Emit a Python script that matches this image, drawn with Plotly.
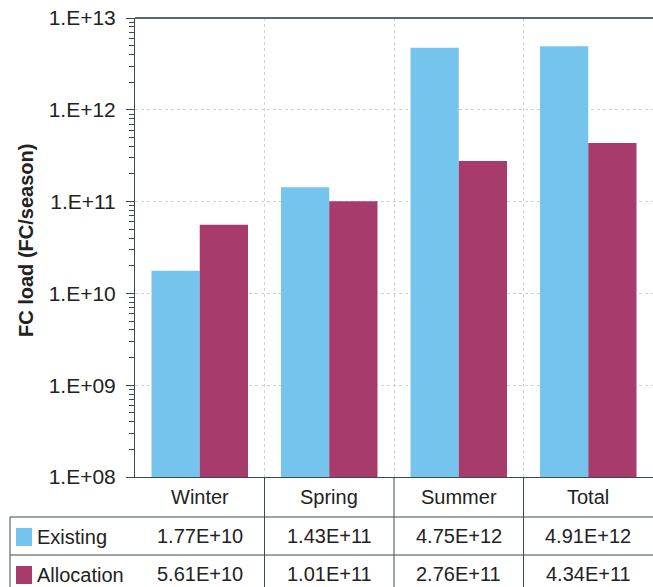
import plotly.graph_objects as go

categories = ["Winter", "Spring", "Summer", "Total"]
existing = [1.77e10, 1.43e11, 4.75e12, 4.91e12]
allocation = [5.61e10, 1.01e11, 2.76e11, 4.34e11]
existing_text = ["1.77E+10", "1.43E+11", "4.75E+12", "4.91E+12"]
allocation_text = ["5.61E+10", "1.01E+11", "2.76E+11", "4.34E+11"]
tick_vals = [1e8, 1e9, 1e10, 1e11, 1e12, 1e13]
tick_text = ["1.E+08", "1.E+09", "1.E+10", "1.E+11", "1.E+12", "1.E+13"]

BLUE = "#75C4EE"
MAROON = "#A63B6C"
LINE = "#3A4A50"
TXT = "#222222"
FONT = "Liberation Sans, Arial, sans-serif"

W, H = 653, 587
L, R, T, B = 135, 0, 18, 110
PW, PH = W - L - R, H - T - B


def px_x(x):
    return (x - L) / PW


def px_y(y):
    return (H - B - y) / PH


minor_vals = [k * v for v in tick_vals[:-1] for k in range(2, 10)]

fig = go.Figure()
fig.add_bar(x=categories, y=existing, name="Existing", marker_color=BLUE,
            marker_line_width=0)
fig.add_bar(x=categories, y=allocation, name="Allocation", marker_color=MAROON,
            marker_line_width=0)

shapes = []
annotations = []

# top border
shapes.append(dict(type="line", xref="paper", yref="paper", x0=0, x1=1, y0=1, y1=1,
                   line=dict(color="#5a666c", width=2)))
# table horizontal lines
for yy in (517, 555):
    shapes.append(dict(type="line", xref="paper", yref="paper", x0=px_x(10), x1=1,
                       y0=px_y(yy), y1=px_y(yy), line=dict(color=LINE, width=1)))
# table left border
shapes.append(dict(type="line", xref="paper", yref="paper", x0=px_x(10), x1=px_x(10),
                   y0=px_y(517), y1=px_y(600), line=dict(color=LINE, width=1)))
# table vertical lines at category boundaries
for i in range(len(categories) - 1):
    xb = i + 0.5
    shapes.append(dict(type="line", xref="x", yref="paper", x0=xb, x1=xb,
                       y0=0, y1=px_y(600), line=dict(color=LINE, width=1)))

# category labels and table values
for i, c in enumerate(categories):
    annotations.append(dict(x=c, y=px_y(497), xref="x", yref="paper", text=c,
                            showarrow=False, font=dict(size=20, color=TXT, family=FONT),
                            xanchor="center", yanchor="middle"))
    annotations.append(dict(x=c, y=px_y(536), xref="x", yref="paper", text=existing_text[i],
                            showarrow=False, font=dict(size=20, color=TXT, family=FONT),
                            xanchor="center", yanchor="middle"))
    annotations.append(dict(x=c, y=px_y(574), xref="x", yref="paper", text=allocation_text[i],
                            showarrow=False, font=dict(size=20, color=TXT, family=FONT),
                            xanchor="center", yanchor="middle"))

# legend keys in table
for name, col, yc in (("Existing", BLUE, 537), ("Allocation", MAROON, 575)):
    shapes.append(dict(type="rect", xref="paper", yref="paper", x0=px_x(16), x1=px_x(32),
                       y0=px_y(yc + 9), y1=px_y(yc - 9), fillcolor=col, line=dict(width=0)))
    annotations.append(dict(x=px_x(35), y=px_y(yc), xref="paper", yref="paper", text=name,
                            showarrow=False, font=dict(size=20, color=TXT, family=FONT),
                            xanchor="left", yanchor="middle"))

# y-axis title
annotations.append(dict(x=px_x(26), y=px_y(241), xref="paper", yref="paper",
                        text="<b>FC load (FC/season)</b>", textangle=-90, showarrow=False,
                        font=dict(size=20, color=TXT, family=FONT),
                        xanchor="center", yanchor="middle"))

fig.update_layout(
    width=W, height=H,
    margin=dict(l=L, r=R, t=T, b=B, pad=0),
    paper_bgcolor="white", plot_bgcolor="white",
    barmode="group", bargap=0.255, bargroupgap=0,
    showlegend=False,
    font=dict(family=FONT, color=TXT, size=20),
    shapes=shapes, annotations=annotations,
    xaxis=dict(type="category", showticklabels=False, ticks="", tickson="boundaries",
               showgrid=True, gridcolor="#cfd3d6", griddash="dot", gridwidth=1,
               showline=True, linecolor=LINE, linewidth=1, zeroline=False,
               range=[-0.5, 3.5]),
    yaxis=dict(type="log", range=[8, 13], tickmode="array", tickvals=tick_vals,
               ticktext=tick_text,
               ticks="outside", ticklen=8, tickcolor=LINE, tickwidth=1,
               ticklabelstandoff=6,
               tickfont=dict(size=21, color=TXT, family=FONT),
               showgrid=True, gridcolor="#cfd3d6", griddash="dot", gridwidth=1,
               showline=True, linecolor=LINE, linewidth=1, zeroline=False,
               minor=dict(tickmode="array", tickvals=minor_vals, ticks="outside",
                          ticklen=5, tickcolor=LINE, tickwidth=1, showgrid=False)),
)

fig.write_html("out.html", config={"displayModeBar": False},
               post_script="document.body.style.margin='0';document.body.style.overflow='hidden';")
